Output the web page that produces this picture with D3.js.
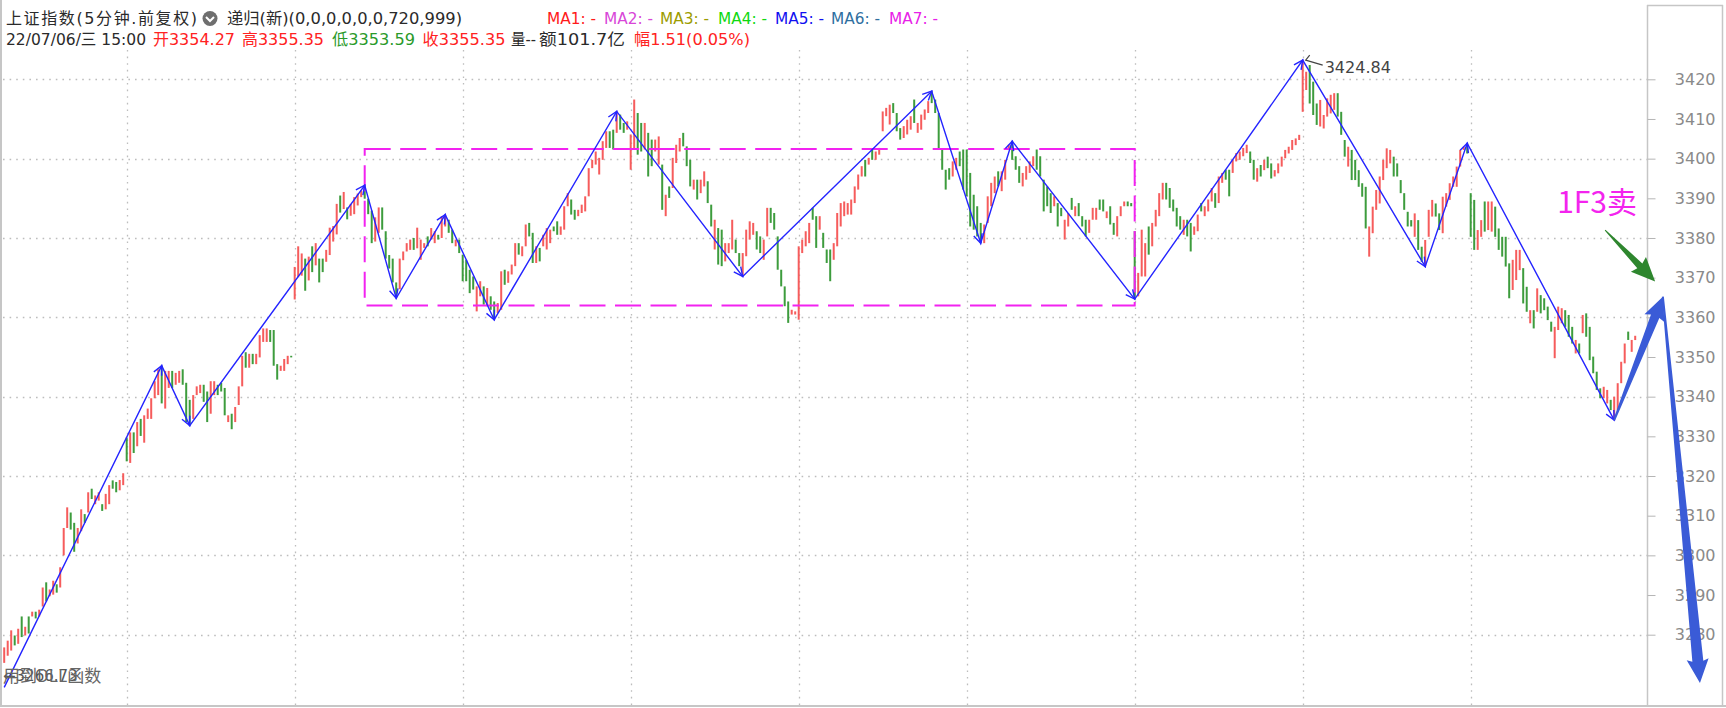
<!DOCTYPE html>
<html><head><meta charset="utf-8">
<script src="https://cdn.jsdelivr.net/npm/d3@7"></script>
<style>
html,body{margin:0;padding:0;background:#fff;}
svg{display:block;}
</style></head><body>
<svg id="chart" width="1726" height="708"></svg>
<script>
// ---------------- DATA ----------------
const titleText = "上证指数(5分钟.前复权)";
const indicatorText = "递归(新)(0,0,0,0,0,0,720,999)";
const maNames = ["MA1: -","MA2: -","MA3: -","MA4: -","MA5: -","MA6: -","MA7: -"];
const barTime = "22/07/06/三 15:00";
const quoteLabels = ["开","高","低","收","量","额","幅"];
const quoteValues = ["3354.27","3355.35","3353.59","3355.35","--","101.7亿","1.51(0.05%)"];
const yTickValues = [3420,3410,3400,3390,3380,3370,3360,3350,3340,3330,3320,3310,3300,3290,3280];
const gridPrices = [3420,3400,3380,3360,3340,3320,3300,3280];
const dayStartIdx = [35,83,131,179,227,275,323,371,419];

const opens = [
 3272.9,3274.7,3276.0,3279.8,3277.7,3284.6,3279.8,3284.6,3284.6,3285.8,3284.6,3287.1,3293.2,3289.7,3290.1,3292.7,3291.9,3300.0,3306.9,3310.8,3308.2,3303.0,3306.1,3310.4,3310.8,3316.8,3312.9,3313.8,3312.9,3311.6,3312.9,3318.9,3318.5,3316.4,3317.7,
 3329.7,3323.3,3331.0,3327.5,3334.4,3328.4,3334.4,3334.4,3339.6,3340.4,3347.8,3337.0,3342.2,3346.5,3343.0,3343.5,3346.9,3343.5,3339.2,3334.4,3340.4,3340.9,3343.0,3341.3,3335.7,3340.4,3343.0,3343.5,3342.2,3333.6,3335.7,3333.6,3337.9,3342.6,3351.2,3347.3,3350.8,3348.2,3349.9,3353.8,3353.8,3356.8,3356.8,3348.2,3346.5,3346.5,3348.2,3350.3,
 3364.5,3370.1,3370.5,3374.8,3369.3,3377.9,3373.1,3374.8,3374.8,3374.0,3375.7,3379.1,3380.9,3390.7,3387.3,3387.7,3385.6,3386.0,3388.2,3390.3,3393.3,3389.9,3386.9,3379.1,3381.3,3387.7,3381.7,3375.7,3374.8,3368.8,3367.1,3374.4,3376.6,3377.0,3380.0,3377.4,3374.5,3377.5,3380.4,3379.6,3378.7,3380.8,3380.0,3382.9,3384.6,3382.1,3377.9,3379.6,
 3375.8,3374.5,3372.0,3370.3,3361.5,3365.3,3367.8,3362.8,3365.3,3364.0,3361.1,3361.9,3372.0,3368.7,3370.8,3372.9,3378.7,3375.4,3377.9,3383.8,3381.3,3373.7,3377.5,3377.9,3377.1,3378.7,3382.9,3384.2,3380.8,3382.1,3388.0,3389.7,3387.1,3385.5,3386.3,3386.7,3390.5,3397.6,3398.5,3396.0,3399.7,3402.7,3406.9,3407.3,3406.5,3411.1,3409.0,3407.3,
 3397.2,3402.3,3411.5,3409.0,3402.3,3406.5,3404.8,3401.8,3398.5,3398.5,3385.5,3393.0,3392.6,3398.9,3401.8,3406.5,3403.1,3399.7,3392.2,3394.7,3391.3,3393.0,3394.3,3388.4,3377.1,3382.5,3382.1,3374.1,3376.2,3377.1,3379.6,3376.2,3370.3,3375.4,3379.6,3380.8,3381.7,3380.4,3374.5,3380.4,3387.6,3386.3,3380.4,3372.0,3367.8,3364.0,3360.7,3360.7,
 3359.4,3376.2,3377.9,3378.7,3387.6,3385.5,3382.1,3381.3,3377.1,3377.1,3374.5,3377.9,3382.9,3385.5,3385.9,3385.9,3388.8,3392.2,3395.5,3399.7,3398.5,3402.3,3399.7,3401.0,3406.9,3410.7,3408.6,3414.0,3411.5,3407.7,3405.2,3406.1,3407.3,3414.9,3406.5,3407.3,3409.8,3411.5,3417.0,3414.9,3411.5,3402.3,3397.2,3397.6,3395.5,3397.2,3401.8,3402.3,
 3402.3,3396.4,3390.9,3388.0,3383.8,3378.7,3383.8,3388.0,3391.3,3396.8,3391.8,3394.7,3402.3,3404.4,3400.6,3398.1,3393.0,3394.7,3396.4,3398.1,3402.3,3400.6,3394.7,3393.0,3391.3,3388.0,3388.8,3387.6,3379.6,3382.9,3390.1,3385.5,3388.8,3385.5,3384.6,3381.3,3384.6,3384.6,3389.7,3389.7,3385.0,3388.0,3383.8,3380.4,3385.5,3388.0,3389.2,3388.8,
 3381.7,3365.3,3370.3,3370.3,3382.9,3377.9,3382.9,3385.5,3389.7,3393.9,3392.6,3389.7,3387.6,3385.5,3380.8,3384.6,3383.8,3380.8,3381.7,3388.8,3385.5,3386.7,3389.2,3391.3,3388.8,3393.9,3397.2,3397.2,3396.4,3399.3,3399.7,3400.6,3401.4,3401.8,3399.7,3394.2,3398.4,3397.1,3400.5,3398.8,3395.5,3396.3,3398.0,3400.1,3401.3,3402.2,3403.4,3404.7,
 3411.8,3417.3,3423.6,3419.4,3413.9,3408.1,3407.6,3410.6,3411.4,3412.3,3416.5,3411.8,3404.7,3398.0,3402.2,3399.7,3397.1,3393.8,3392.9,3375.3,3381.2,3387.1,3388.7,3394.6,3397.6,3398.8,3400.5,3398.8,3394.6,3391.3,3386.6,3384.5,3380.3,3384.5,3377.8,3372.8,3380.3,3385.4,3388.7,3386.2,3381.2,3387.9,3389.6,3392.9,3392.9,3398.0,3402.2,3403.9,
 3391.3,3389.6,3377.0,3380.3,3389.2,3382.0,3381.6,3387.9,3382.4,3380.3,3380.3,3373.6,3366.9,3369.4,3371.9,3372.4,3367.7,3358.5,3361.8,3361.4,3365.6,3364.8,3362.7,3358.9,3349.7,3356.8,3358.5,3361.8,3360.6,3357.6,3350.9,3353.4,3356.0,3361.0,3357.6,3350.1,3346.3,3342.1,3339.6,3338.3,3339.2,3334.1,3336.6,3343.4,3348.4,3356.4,3351.3,3354.27
];
const closes = [
 3276.8,3278.5,3281.1,3277.3,3281.5,3279.4,3282.0,3280.3,3285.8,3284.1,3286.3,3291.9,3288.4,3291.4,3293.6,3290.6,3297.0,3306.9,3312.1,3306.5,3300.9,3306.9,3311.6,3308.2,3315.9,3314.2,3315.1,3315.9,3311.2,3315.5,3317.7,3316.8,3315.9,3319.0,3320.7,
 3323.7,3331.0,3325.8,3333.6,3330.1,3335.3,3337.0,3339.6,3343.9,3346.9,3338.3,3346.5,3346.5,3342.2,3346.0,3346.5,3343.0,3333.6,3332.7,3340.4,3342.6,3343.0,3338.7,3333.6,3343.9,3343.9,3340.4,3341.3,3335.3,3335.3,3331.8,3337.4,3342.6,3350.3,3347.3,3350.8,3348.2,3350.8,3355.5,3357.2,3357.2,3353.8,3347.8,3344.3,3347.8,3349.5,3350.3,3349.9,
 3372.7,3377.9,3376.1,3366.7,3375.3,3371.4,3378.7,3368.8,3371.4,3377.0,3382.6,3383.0,3388.6,3386.4,3391.6,3384.7,3388.6,3390.3,3391.2,3392.0,3389.9,3386.0,3378.7,3385.2,3387.7,3382.1,3374.8,3372.3,3368.8,3364.8,3374.8,3376.6,3378.7,3379.6,3377.0,3382.6,3379.6,3378.7,3377.9,3382.5,3381.7,3379.6,3385.5,3385.9,3381.3,3378.7,3379.6,3376.2,
 3369.1,3369.1,3366.1,3367.0,3367.8,3369.1,3363.2,3367.4,3361.9,3359.4,3363.6,3371.6,3368.2,3371.6,3373.3,3378.7,3375.8,3377.9,3383.4,3380.4,3373.7,3377.9,3374.1,3380.8,3382.5,3382.1,3381.7,3380.8,3382.9,3388.0,3391.3,3385.9,3384.6,3387.1,3388.4,3390.5,3397.6,3399.7,3401.8,3400.2,3404.4,3406.9,3402.7,3402.3,3411.9,3407.3,3406.5,3409.4,
 3406.1,3414.9,3401.0,3401.8,3409.0,3395.5,3398.1,3404.8,3405.6,3387.1,3390.9,3390.1,3400.2,3403.5,3405.2,3403.1,3398.1,3393.0,3394.7,3389.7,3394.7,3396.8,3388.8,3382.9,3384.6,3373.3,3372.9,3378.7,3378.7,3384.6,3376.2,3372.9,3376.2,3382.1,3384.2,3383.8,3377.1,3376.2,3379.6,3387.6,3383.8,3382.1,3372.0,3367.8,3362.8,3358.6,3361.9,3361.5,
 3377.9,3379.6,3381.7,3383.8,3384.6,3377.5,3385.5,3377.5,3373.7,3369.1,3378.7,3386.3,3388.8,3389.2,3388.8,3389.7,3393.0,3396.0,3398.1,3395.5,3400.2,3399.7,3401.8,3402.7,3411.9,3412.8,3413.6,3411.5,3406.9,3404.8,3408.2,3409.8,3410.7,3409.0,3409.0,3411.1,3412.4,3414.5,3414.0,3411.5,3402.3,3397.2,3392.2,3394.7,3399.3,3400.2,3398.1,3392.2,
 3390.5,3382.9,3382.1,3380.4,3378.7,3383.4,3390.5,3393.9,3395.5,3393.0,3396.8,3399.7,3403.5,3399.7,3397.2,3393.9,3396.4,3398.1,3399.3,3400.6,3397.2,3395.5,3386.7,3388.0,3386.3,3390.5,3382.9,3385.5,3384.6,3386.3,3387.1,3388.0,3385.5,3382.9,3380.4,3384.6,3387.6,3387.6,3387.1,3386.7,3386.7,3383.4,3380.8,3385.5,3388.0,3389.2,3388.0,3388.0,
 3364.6,3371.2,3382.1,3378.7,3375.8,3383.8,3387.1,3391.3,3393.9,3389.7,3387.6,3386.7,3382.9,3382.1,3384.6,3380.4,3376.6,3382.9,3385.9,3386.7,3388.0,3389.7,3392.6,3387.6,3395.5,3396.4,3394.7,3390.5,3399.7,3401.4,3401.8,3402.7,3403.5,3398.9,3394.7,3397.6,3395.5,3399.7,3397.6,3395.0,3397.1,3398.8,3400.5,3402.2,3403.0,3404.7,3405.1,3406.0,
 3424.84,3421.9,3413.9,3411.0,3408.5,3414.8,3411.0,3415.2,3416.1,3416.5,3410.6,3406.0,3400.5,3403.0,3394.6,3394.6,3392.9,3390.4,3382.4,3382.9,3387.9,3392.1,3395.5,3399.7,3402.6,3402.2,3395.5,3395.5,3391.3,3387.1,3382.9,3382.9,3386.2,3377.0,3374.0,3379.5,3387.1,3389.6,3385.4,3382.0,3390.4,3391.3,3393.8,3395.5,3398.0,3402.2,3403.0,3401.3,
 3380.3,3377.0,3382.0,3384.5,3381.6,3389.2,3389.2,3380.3,3377.0,3375.3,3372.8,3364.8,3374.5,3377.0,3377.0,3363.5,3361.4,3361.8,3357.2,3367.3,3361.0,3361.8,3359.3,3356.4,3357.6,3362.7,3362.3,3357.6,3355.1,3353.4,3354.3,3350.9,3360.6,3355.1,3349.2,3345.9,3341.7,3339.6,3342.5,3341.7,3336.6,3340.0,3343.4,3348.8,3353.4,3354.3,3354.3,3355.35
];

// zigzag turning points (candle index, price)
const zigIdx   = [0,45,53,103,112,126,140,175,211,265,279,288,323,371,406,418,460];
const zigPrice = [3266.73,3347.8,3332.7,3393.3,3364.8,3385.9,3359.4,3411.9,3370.3,3417.0,3378.7,3404.4,3364.6,3424.84,3372.8,3403.9,3334.1];
// dashed consolidation box (candle index range, price range)
const boxIdx = [103,323];
const boxPrice = [3402.4,3363.0];
// hand-drawn annotation arrows (candle index, price)
const greenArrowPts = [[457.4,3382.0],[471.7,3369.0]];
const blueUpPts     = [[460,3334.1],[473.9,3365.2]];
const blueDownPts   = [[473.9,3365.2],[484.5,3267.8]];
const signalText = "1F3卖";
const signalPos = [443.7,3386.2];
const highLabel = "3424.84";
const lowLabel = "←3266.73";
const dllText = "用到DLL函数";

// ---------------- DRAWING ----------------
const svg = d3.select("#chart");
const W = 1726, H = 708;
const plotRight = 1647, plotTop = 50, plotBottom = 706;
const FONT = "'DejaVu Sans','Noto Sans CJK SC',sans-serif";

const x = d3.scaleLinear().domain([0, opens.length - 1]).range([4.2, 1635.2]);
const y = d3.scaleLinear().domain([3280, 3420]).range([634.7, 79.3]);

svg.append("rect").attr("width", W).attr("height", H).attr("fill", "#ffffff");

// grid
const grid = svg.append("g");
grid.selectAll("line.h").data(gridPrices).join("line").attr("class","h")
  .attr("x1", 3).attr("x2", plotRight)
  .attr("y1", d => Math.round(y(d)) + 0.5).attr("y2", d => Math.round(y(d)) + 0.5)
  .attr("stroke", "#bdbdbd").attr("stroke-width", 1.3).attr("stroke-dasharray", "1.6,5");
grid.selectAll("line.v").data(dayStartIdx).join("line").attr("class","v")
  .attr("x1", d => Math.round(x(d)) + 0.5).attr("x2", d => Math.round(x(d)) + 0.5)
  .attr("y1", plotTop).attr("y2", plotBottom)
  .attr("stroke", "#bdbdbd").attr("stroke-width", 1.3).attr("stroke-dasharray", "1.6,5");

// candles
const candles = opens.map((o, i) => ({i, o, c: closes[i]}));
svg.append("g").selectAll("rect").data(candles).join("rect")
  .attr("x", d => x(d.i) - 1)
  .attr("width", 2)
  .attr("y", d => y(Math.max(d.o, d.c)))
  .attr("height", d => Math.max(1.2, Math.abs(y(d.o) - y(d.c))))
  .attr("fill", d => d.c >= d.o ? "#f65c5c" : "#3d9c3d");

// dashed box
svg.append("rect")
  .attr("x", x(boxIdx[0])).attr("y", y(boxPrice[0]))
  .attr("width", x(boxIdx[1]) - x(boxIdx[0]))
  .attr("height", y(boxPrice[1]) - y(boxPrice[0]))
  .attr("fill", "none").attr("stroke", "#f222f0").attr("stroke-width", 2)
  .attr("stroke-dasharray", "26,9.5");

// zigzag
const zig = zigIdx.map((d, k) => [x(d), y(zigPrice[k])]);
const zg = svg.append("g").attr("stroke", "#2424ff").attr("fill", "none").attr("stroke-width", 1.4);
zg.append("path").attr("d", d3.line()(zig));
for (let k = 1; k < zig.length; k++) {
  const [sx, sy] = zig[k - 1], [ex, ey] = zig[k];
  const a = Math.atan2(ey - sy, ex - sx);
  const L = 10, spread = 0.45;
  const p1 = [ex - L * Math.cos(a - spread), ey - L * Math.sin(a - spread)];
  const p2 = [ex - L * Math.cos(a + spread), ey - L * Math.sin(a + spread)];
  zg.append("path").attr("d", d3.line()([p1, [ex, ey], p2]));
}

// high label
const hx = x(zigIdx[13]), hy = y(zigPrice[13]);
svg.append("path").attr("d", `M${hx+20},${hy+5} L${hx+3},${hy} L${hx+7},${hy-5}`)
  .attr("stroke", "#444").attr("fill", "none").attr("stroke-width", 1.2);
svg.append("text").attr("x", hx + 22).attr("y", hy + 12.5).text(highLabel)
  .attr("font-family", FONT).attr("font-size", 16).attr("fill", "#444");

// tapered arrows
function taperArrow(p0, p1, w0, w1, headLen, headHalf) {
  const [x0, y0] = [x(p0[0]), y(p0[1])], [x1, y1] = [x(p1[0]), y(p1[1])];
  const dx = x1 - x0, dy = y1 - y0, L = Math.hypot(dx, dy);
  const ux = dx / L, uy = dy / L, nx = -uy, ny = ux;
  const bx = x1 - ux * headLen, by = y1 - uy * headLen;
  return [[x0 + nx*w0/2, y0 + ny*w0/2], [bx + nx*w1/2, by + ny*w1/2], [bx + nx*headHalf - ux*2, by + ny*headHalf - uy*2],
          [x1, y1], [bx - nx*headHalf - ux*2, by - ny*headHalf - uy*2], [bx - nx*w1/2, by - ny*w1/2], [x0 - nx*w0/2, y0 - ny*w0/2]];
}
const closed = d3.line().curve(d3.curveLinearClosed);

// signal text
svg.append("text").attr("x", x(signalPos[0])).attr("y", y(signalPos[1])).text(signalText)
  .attr("font-family", "'Noto Sans CJK SC',sans-serif").attr("font-size", 30).attr("fill", "#f324ee");

// frame lines
const frame = svg.append("g").attr("stroke", "#c6c6c6");
frame.append("line").attr("x1", plotRight + 0.5).attr("x2", plotRight + 0.5).attr("y1", 5).attr("y2", plotBottom).attr("stroke-width", 1.5);
frame.append("line").attr("x1", 1722.5).attr("x2", 1722.5).attr("y1", 5).attr("y2", plotBottom).attr("stroke-width", 1.5);
frame.append("line").attr("x1", plotRight).attr("x2", 1723).attr("y1", 5.5).attr("y2", 5.5).attr("stroke-width", 1.5);
frame.append("line").attr("x1", 0).attr("x2", W).attr("y1", plotBottom).attr("y2", plotBottom).attr("stroke-width", 2);
frame.append("line").attr("x1", 1).attr("x2", 1).attr("y1", 0).attr("y2", plotBottom).attr("stroke-width", 2);

// right axis
const axis = d3.axisRight(y).tickValues(yTickValues).tickSize(8).tickFormat(d3.format("d"));
const ag = svg.append("g").attr("transform", `translate(${plotRight + 0.5},0)`).call(axis);
ag.select(".domain").remove();
ag.attr("font-family", FONT).attr("font-size", 16);
ag.selectAll(".tick line").attr("stroke", "#b5b5b5");
ag.selectAll(".tick text").attr("x", 68).attr("text-anchor", "end").attr("fill", "#8a8a8a");

// arrows drawn on top of the axis labels (as in the picture)
svg.append("path").attr("d", closed(taperArrow(blueDownPts[0], blueDownPts[1], 2, 11, 22, 11))).attr("fill", "#3a5bd7");
svg.append("path").attr("d", closed(taperArrow(blueUpPts[0], blueUpPts[1], 2, 9, 21, 10.7))).attr("fill", "#3a5bd7");
svg.append("path").attr("d", closed(taperArrow(greenArrowPts[0], greenArrowPts[1], 1, 7, 22, 10.5))).attr("fill", "#2e862e");

// bottom-left overlapped labels (they overlap in the original too)
svg.append("text").attr("x", 3).attr("y", y(zigPrice[0]) - 6).text(lowLabel)
  .attr("font-family", FONT).attr("font-size", 15).attr("fill", "#555");
svg.append("text").attr("x", 3).attr("y", y(zigPrice[0]) - 5).text(dllText)
  .attr("font-family", "'Noto Sans CJK SC',sans-serif").attr("font-size", 17).attr("fill", "#666");

// header
const hdr = svg.append("g").attr("font-family", FONT).attr("font-size", 16);
hdr.append("text").attr("x", 6).attr("y", 24).attr("textLength", 191).attr("lengthAdjust", "spacing")
  .attr("fill", "#2a2a2a").text(titleText);
hdr.append("circle").attr("cx", 210).attr("cy", 18.5).attr("r", 7.5).attr("fill", "#6e6e6e");
hdr.append("path").attr("d", "M206,17 L210,21 L214,17").attr("stroke", "#fff").attr("stroke-width", 2).attr("fill", "none");
hdr.append("text").attr("x", 227).attr("y", 24).attr("textLength", 235).attr("lengthAdjust", "spacingAndGlyphs")
  .attr("fill", "#2a2a2a").text(indicatorText);
const maX = [547,604,660,718,775,831,889];
const maColor = ["#ff1a1a","#d846d8","#9c9c00","#10d810","#1010f0","#2f6f9f","#e820e8"];
hdr.selectAll("text.ma").data(maNames).join("text").attr("class", "ma")
  .attr("x", (d, i) => maX[i]).attr("y", 24).attr("textLength", 49).attr("lengthAdjust", "spacingAndGlyphs")
  .attr("fill", (d, i) => maColor[i]).text(d => d);
hdr.append("text").attr("x", 6).attr("y", 45).attr("textLength", 140).attr("lengthAdjust", "spacingAndGlyphs")
  .attr("fill", "#2a2a2a").text(barTime);
const qX = [153,242,332,422.5,511,539,634];
const qW = [82,82,83,83,25,86,116];
const qColor = ["#f22","#f22","#2a9a2a","#f22","#2a2a2a","#2a2a2a","#f22"];
hdr.selectAll("text.q").data(quoteLabels).join("text").attr("class", "q")
  .attr("x", (d, i) => qX[i]).attr("y", 45).attr("fill", (d, i) => qColor[i])
  .attr("textLength", (d, i) => qW[i]).attr("lengthAdjust", "spacingAndGlyphs")
  .text((d, i) => d + quoteValues[i]);
</script>
</body></html>
